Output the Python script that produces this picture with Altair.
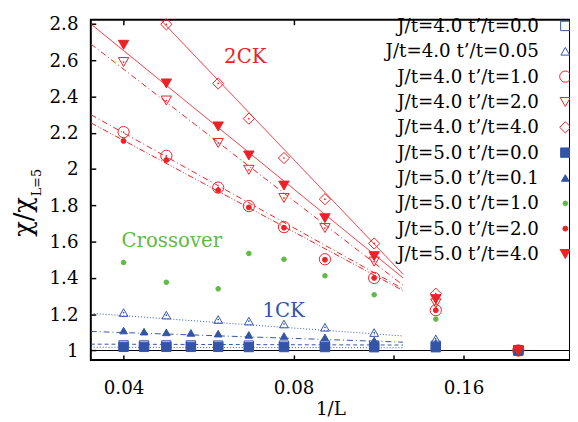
import altair as alt
import pandas as pd

FONT = "DejaVu Serif"
BLUE = "#3454a8"
RED = "#ec2227"
GREEN = "#5fba46"

# system sizes L -> x = 1/L
L_all = [25, 23, 21, 19, 17, 15, 13, 11, 9, 7, 5]
L_main = [25, 21, 17, 15, 13, 11, 9, 7, 5]
L_diam = [21, 17, 15, 13, 11, 9, 7, 5]

names = ["J/t=4.0 t’/t=0.0", "J/t=4.0 t’/t=0.05", "J/t=4.0 t’/t=1.0",
         "J/t=4.0 t’/t=2.0", "J/t=4.0 t’/t=4.0", "J/t=5.0 t’/t=0.0",
         "J/t=5.0 t’/t=0.1", "J/t=5.0 t’/t=1.0", "J/t=5.0 t’/t=2.0",
         "J/t=5.0 t’/t=4.0"]

v_j4_t0 = [1.028, 1.028, 1.028, 1.028, 1.027, 1.027, 1.027, 1.027, 1.027, 1.026, 1.0]
v_j4_t005 = [1.209, 1.195, 1.171, 1.162, 1.146, 1.128, 1.099, 1.064, 1.0]
v_j4_t1 = [2.204, 2.073, 1.898, 1.796, 1.680, 1.503, 1.400, 1.222, 1.0]
v_j4_t2 = [2.590, 2.378, 2.144, 1.996, 1.841, 1.675, 1.490, 1.260, 1.0]
v_j4_t4 = [2.798, 2.472, 2.278, 2.061, 1.834, 1.590, 1.313, 1.0]
v_j5_t0 = [1.020, 1.020, 1.020, 1.020, 1.020, 1.019, 1.019, 1.019, 1.018, 1.018, 1.0]
v_j5_t01 = [1.110, 1.104, 1.100, 1.097, 1.093, 1.086, 1.080, 1.072, 1.055, 1.040, 1.0]
v_j5_t1 = [1.485, 1.376, 1.340, 1.535, 1.503, 1.412, 1.307, 1.173, 1.0]
v_j5_t2 = [2.155, 2.050, 1.883, 1.789, 1.677, 1.500, 1.400, 1.222, 1.0]
v_j5_t4 = [2.685, 2.472, 2.235, 2.075, 1.909, 1.729, 1.520, 1.283, 1.0]

series_L = [L_all, L_main, L_main, L_main, L_diam, L_all, L_all, L_main, L_main, L_main]
series_v = [v_j4_t0, v_j4_t005, v_j4_t1, v_j4_t2, v_j4_t4,
            v_j5_t0, v_j5_t01, v_j5_t1, v_j5_t2, v_j5_t4]
shapes = ["square", "triangle-up", "circle", "triangle-down", "diamond",
          "square", "triangle-up", "circle", "circle", "triangle-down"]
strokes = [BLUE, BLUE, RED, RED, RED, BLUE, BLUE, GREEN, RED, RED]
fills = ["transparent", "transparent", "transparent", "transparent", "transparent",
         BLUE, BLUE, GREEN, RED, RED]
sizes = [90, 80, 130, 110, 130, 90, 60, 22, 25, 110]
is_open = [True, True, True, True, True, False, False, False, False, False]

rows = []
for i, name in enumerate(names):
    for L, v in zip(series_L[i], series_v[i]):
        rows.append({"series": name, "x": 1.0 / L, "y": v, "col": strokes[i], "open": is_open[i]})
df_pts = pd.DataFrame(rows)
df_dots = df_pts[df_pts["open"]]

# fitted lines (end points)
fit_ids = ["f_j4t4", "f_j5t4", "f_j4t2", "f_j4t1", "f_j5t2", "f_j4t005", "f_j5t01", "f_j4t0", "f_j5t0"]
fit_x0 = [0.0466, 0.035, 0.035, 0.035, 0.035, 0.035, 0.035, 0.035, 0.035]
fit_y0 = [2.82, 2.80, 2.69, 2.30, 2.255, 1.205, 1.105, 1.035, 1.018]
fit_x1 = [0.125] * 9
fit_y1 = [1.42, 1.40, 1.36, 1.34, 1.33, 1.08, 1.046, 1.030, 1.015]
fit_col = [RED, RED, RED, RED, RED, BLUE, BLUE, BLUE, BLUE]
fit_dash = ["solid", "solid", "dashdot", "dashdot", "dashdotdot", "dot", "dashdot", "dash", "dot"]
dash_names = ["solid", "dashdot", "dashdotdot", "dot", "dash"]
dash_arrays = [[1, 0], [6, 3, 1, 3], [6, 2, 1, 2, 1, 2], [1, 2], [4, 3]]

lrows = []
for i, f in enumerate(fit_ids):
    lrows.append({"fit": f, "x": fit_x0[i], "y": fit_y0[i], "col": fit_col[i], "dash": fit_dash[i]})
    lrows.append({"fit": f, "x": fit_x1[i], "y": fit_y1[i], "col": fit_col[i], "dash": fit_dash[i]})
df_lines = pd.DataFrame(lrows)

ann_text = ["2CK", "Crossover", "1CK"]
ann_x = [0.0657, 0.0487, 0.0768]
ann_y = [2.617, 1.602, 1.218]
ann_col = [RED, GREEN, BLUE]
df_ann = pd.DataFrame({"t": ann_text, "x": ann_x, "y": ann_y, "col": ann_col})

x_ticks = [0.04, 0.08, 0.16]
y_ticks = [1.0, 1.2, 1.4, 1.6, 1.8, 2.0, 2.2, 2.4, 2.6, 2.8]

xscale = alt.Scale(type="log", domain=[0.035, 0.2469], nice=False)
yscale = alt.Scale(domain=[0.948, 2.823], nice=False, zero=False)

ax_main_x = alt.Axis(orient="bottom", values=x_ticks, format=".2f", ticks=False, tickSize=0,
                     domain=False, grid=False, labelFontSize=18.5, labelPadding=19,
                     title="1/L", titleFontSize=18.5, titlePadding=3)
ax_main_y = alt.Axis(orient="left", values=y_ticks, format="~g", ticks=False, tickSize=0,
                     domain=False, grid=False, labelFontSize=18.5, labelPadding=13, title=None)
ax_tick_x = alt.Axis(orient="bottom", offset=-5, values=[0.04, 0.08, 0.12, 0.16], tickSize=5,
                     tickWidth=1.5, tickColor="black", labels=False, domain=False, grid=False, title=None)
ax_tick_y = alt.Axis(orient="left", offset=-5, values=y_ticks, tickSize=5, tickWidth=1.5,
                     tickColor="black", labels=False, domain=False, grid=False, title=None)
ax_tick_top = alt.Axis(orient="top", offset=-5, values=[0.04, 0.08], tickSize=5, tickWidth=1.5,
                       tickColor="black", labels=False, domain=False, grid=False, title=None)

leg = alt.Legend(orient="none", legendX=472, legendY=-3, title=None, labelAlign="right",
                 labelOffset={"expr": "-36"}, labelFont=FONT, labelFontSize=18.5, labelColor="black",
                 rowPadding=6.7, symbolStrokeWidth=1, padding=0, labelLimit=400)

lines = alt.Chart(df_lines).mark_line(strokeWidth=1, clip=True).encode(
    x=alt.X("x:Q", scale=xscale, axis=ax_main_x),
    y=alt.Y("y:Q", scale=yscale, axis=ax_main_y),
    detail="fit:N",
    color=alt.Color("col:N", scale=None),
    strokeDash=alt.StrokeDash("dash:N", scale=alt.Scale(domain=dash_names, range=dash_arrays), legend=None),
)

points = alt.Chart(df_pts).mark_point(opacity=1, strokeWidth=1, filled=False).encode(
    x=alt.X("x:Q", scale=xscale, axis=ax_tick_x),
    y=alt.Y("y:Q", scale=yscale, axis=ax_tick_y),
    shape=alt.Shape("series:N", scale=alt.Scale(domain=names, range=shapes), legend=leg),
    stroke=alt.Stroke("series:N", scale=alt.Scale(domain=names, range=strokes), legend=leg),
    fill=alt.Fill("series:N", scale=alt.Scale(domain=names, range=fills), legend=leg),
    size=alt.Size("series:N", scale=alt.Scale(type="ordinal", domain=names, range=sizes), legend=leg),
)

dots = alt.Chart(df_dots).mark_point(filled=True, opacity=1, size=3).encode(
    x=alt.X("x:Q", scale=xscale, axis=ax_tick_top),
    y=alt.Y("y:Q", scale=yscale, axis=None),
    color=alt.Color("col:N", scale=None),
)

one_line = alt.Chart(pd.DataFrame({"y": [1.0]})).mark_rule(color="black", strokeWidth=1.2).encode(
    y=alt.Y("y:Q", scale=yscale, axis=None),
)

ann = alt.Chart(df_ann).mark_text(font=FONT, fontSize=20, align="center", baseline="middle").encode(
    x=alt.X("x:Q", scale=xscale, axis=None),
    y=alt.Y("y:Q", scale=yscale, axis=None),
    text="t:N",
    color=alt.Color("col:N", scale=None),
)

ytitle1 = alt.Chart(pd.DataFrame({"t": ["χ/χ"]})).mark_text(
    font=FONT, fontSize=26, angle=270, align="center", baseline="middle", color="black"
).encode(x=alt.value(-68), y=alt.value(200), text="t:N")
ytitle2 = alt.Chart(pd.DataFrame({"t": ["L=5"]})).mark_text(
    font=FONT, fontSize=13, angle=270, align="center", baseline="middle", color="black"
).encode(x=alt.value(-55), y=alt.value(165), text="t:N")

chart = alt.layer(lines, one_line, points, dots, ann, ytitle1, ytitle2).resolve_axis(
    x="independent", y="independent"
).properties(
    width=486, height=345, autosize="none",
    padding={"left": 84, "top": 9, "right": 0, "bottom": 60},
).configure_view(stroke="black", strokeWidth=2).configure_axis(
    labelFont=FONT, titleFont=FONT, labelColor="black", titleColor="black", titleFontWeight="normal"
)

chart.save("out.html", embed_options={"renderer": "svg", "actions": False})
